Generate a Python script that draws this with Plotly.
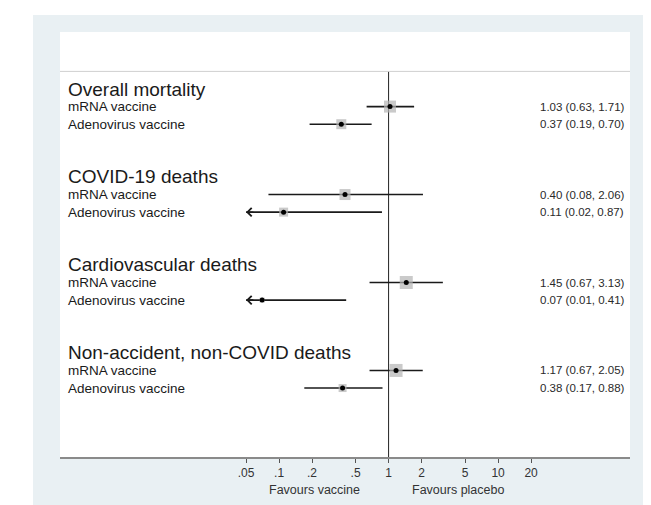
import math
import plotly.graph_objects as go

# ---------------- data ----------------
groups = ["Overall mortality", "COVID-19 deaths", "Cardiovascular deaths",
          "Non-accident, non-COVID deaths"]
vaccines = ["mRNA vaccine", "Adenovirus vaccine"]

mrna_est = [1.03, 0.40, 1.45, 1.17]
mrna_lo = [0.63, 0.08, 0.67, 0.67]
mrna_hi = [1.71, 2.06, 3.13, 2.05]

adeno_est = [0.37, 0.11, 0.07, 0.38]
adeno_lo = [0.19, 0.02, 0.01, 0.17]
adeno_hi = [0.70, 0.87, 0.41, 0.88]

# relative weights (box sizes)
mrna_w = [12, 11, 13, 13]
adeno_w = [10, 9, 5, 8]

tick_vals = [0.05, 0.1, 0.2, 0.5, 1, 2, 5, 10, 20]
tick_text = [".05", ".1", ".2", ".5", "1", "2", "5", "10", "20"]
ci_min = 0.05  # CIs below this are drawn with an arrow

FONT = "Liberation Sans, Arial, sans-serif"

# ---------------- layout helpers ----------------
W, H = 651, 505
ML, MR, MT, MB = 52, 29, 24, 56
Y_TOP, Y_BOT = -3.24, 20.92

rows = []  # (row, est, lo, hi, w, label)
for g in range(len(groups)):
    rows.append((5 * g + 1, mrna_est[g], mrna_lo[g], mrna_hi[g], mrna_w[g], vaccines[0]))
    rows.append((5 * g + 2, adeno_est[g], adeno_lo[g], adeno_hi[g], adeno_w[g], vaccines[1]))

fig = go.Figure()

# reference line at 1
fig.add_trace(go.Scatter(x=[1, 1], y=[-1, Y_BOT], mode="lines",
                         line=dict(color="#222222", width=1), hoverinfo="skip",
                         showlegend=False))

# CI lines
lx, ly = [], []
for r, e, lo, hi, w, lab in rows:
    lx += [max(lo, ci_min), hi, None]
    ly += [r, r, None]
fig.add_trace(go.Scatter(x=lx, y=ly, mode="lines",
                         line=dict(color="#1a1a1a", width=1.6),
                         hoverinfo="skip", showlegend=False))

# weight boxes
fig.add_trace(go.Scatter(x=[r[1] for r in rows], y=[r[0] for r in rows], mode="markers",
                         marker=dict(symbol="square", size=[r[4] for r in rows],
                                     color="#b4b4b4", line=dict(width=0)),
                         hoverinfo="skip", showlegend=False))
# point estimates
fig.add_trace(go.Scatter(x=[r[1] for r in rows], y=[r[0] for r in rows], mode="markers",
                         marker=dict(symbol="circle", size=5, color="#000000"),
                         hoverinfo="skip", showlegend=False))

annotations = []
# arrows for truncated CIs
for r, e, lo, hi, w, lab in rows:
    if lo < ci_min:
        annotations.append(dict(
            x=math.log10(ci_min), y=r, ax=math.log10(ci_min) + 0.08, ay=r,
            xref="x", yref="y", axref="x", ayref="y", text="", showarrow=True,
            arrowhead=4, arrowsize=1.1, arrowwidth=1.5, arrowcolor="#1a1a1a",
            standoff=0))

# text labels
for g, name in enumerate(groups):
    annotations.append(dict(x=(58 - ML) / (W - ML - MR), y=5 * g, xref="paper", yref="y",
                            text=name, showarrow=False, xanchor="left", yanchor="middle",
                            font=dict(family=FONT, size=19, color="#1a1a1a")))
for r, e, lo, hi, w, lab in rows:
    annotations.append(dict(x=(58 - ML) / (W - ML - MR), y=r, xref="paper", yref="y",
                            text=lab, showarrow=False, xanchor="left", yanchor="middle",
                            font=dict(family=FONT, size=13.5, color="#1a1a1a")))
    annotations.append(dict(x=(530 - ML) / (W - ML - MR), y=r, xref="paper", yref="y",
                            text=f"{e:.2f} ({lo:.2f}, {hi:.2f})", showarrow=False,
                            xanchor="left", yanchor="middle",
                            font=dict(family=FONT, size=11.5, color="#2a2a2a")))

annotations.append(dict(x=math.log10(0.21), y=(449 - 482) / (H - MT - MB), xref="x", yref="paper",
                        text="Favours vaccine", showarrow=False, xanchor="center",
                        yanchor="middle", font=dict(family=FONT, size=12.5, color="#333333")))
annotations.append(dict(x=math.log10(4.3), y=(449 - 482) / (H - MT - MB), xref="x", yref="paper",
                        text="Favours placebo", showarrow=False, xanchor="center",
                        yanchor="middle", font=dict(family=FONT, size=12.5, color="#333333")))

pw, ph = W - ML - MR, H - MT - MB
shapes = [
    dict(type="rect", xref="paper", yref="paper", layer="below",
         x0=(25 - ML) / pw, x1=(643 - ML) / pw, y0=(449 - 505) / ph, y1=(449 - 7) / ph,
         fillcolor="#e9f0f3", line=dict(width=0)),
    dict(type="rect", xref="paper", yref="paper", layer="below",
         x0=0, x1=1, y0=0, y1=1, fillcolor="#ffffff", line=dict(width=0)),
    dict(type="line", xref="paper", yref="y", x0=0, x1=1, y0=-1, y1=-1,
         line=dict(color="#cfcfcf", width=1)),
]

fig.update_layout(
    width=W, height=H,
    margin=dict(l=ML, r=MR, t=MT, b=MB, pad=0),
    paper_bgcolor="#ffffff", plot_bgcolor="rgba(0,0,0,0)",
    showlegend=False,
    annotations=annotations, shapes=shapes,
    xaxis=dict(type="log", range=[-3.0, 2.204], tickvals=tick_vals, ticktext=tick_text,
               ticks="outside", ticklen=4, tickwidth=1, tickcolor="#555555",
               showline=True, linecolor="#8a8a8a", linewidth=2,
               showgrid=False, zeroline=False,
               tickfont=dict(family=FONT, size=12, color="#333333")),
    yaxis=dict(range=[Y_BOT, Y_TOP], visible=False, showgrid=False, zeroline=False),
)

fig.write_html("out.html")
